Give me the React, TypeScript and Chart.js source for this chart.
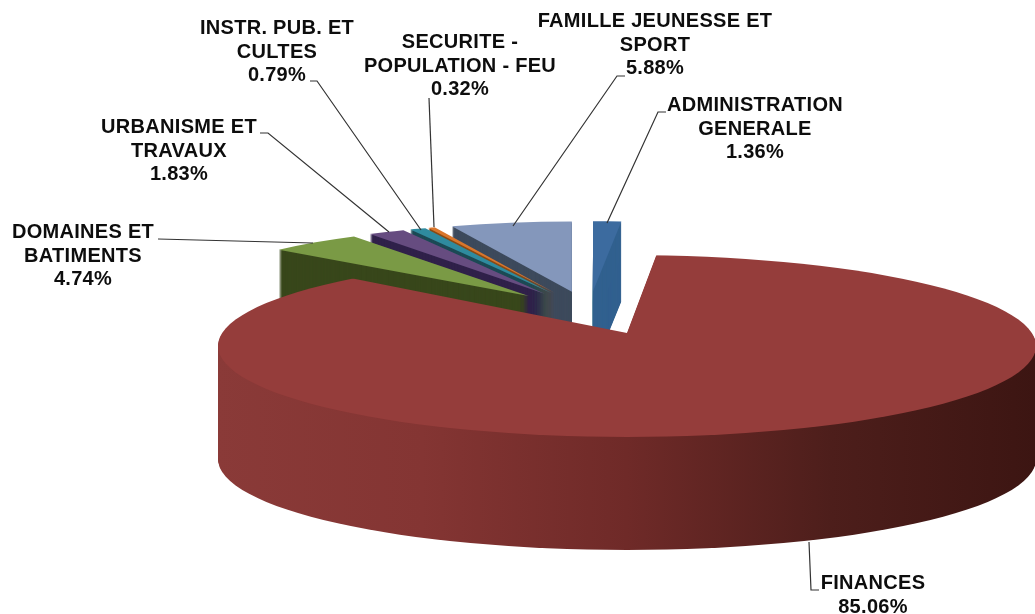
import React, { useEffect, useRef } from "react";
import { Chart, ArcElement, PieController } from "chart.js";

Chart.register(ArcElement, PieController);

// ---- data ----
const categories = [
  "ADMINISTRATION GENERALE",
  "FINANCES",
  "DOMAINES ET BATIMENTS",
  "URBANISME ET TRAVAUX",
  "INSTR. PUB. ET CULTES",
  "SECURITE - POPULATION - FEU",
  "FAMILLE JEUNESSE ET SPORT",
];
const shares = [1.36, 85.06, 4.74, 1.83, 0.79, 0.32, 5.88];
const labelLines = [
  ["ADMINISTRATION", "GENERALE"],
  ["FINANCES"],
  ["DOMAINES ET", "BATIMENTS"],
  ["URBANISME ET", "TRAVAUX"],
  ["INSTR. PUB. ET", "CULTES"],
  ["SECURITE -", "POPULATION - FEU"],
  ["FAMILLE JEUNESSE ET", "SPORT"],
];

// ---- styling ----
const topColors = ["#3c6b9f", "#953d3b", "#7a9a45", "#664c80", "#2f8b9f", "#d9762c", "#8497bb"];
const wallColors = ["#31608f", "#000000", "#38471b", "#30214a", "#1c4a55", "#8a4a14", "#3d4a5c"];
const financeIndex = 1;
const drawOrder = [6, 5, 4, 3, 2, 0, 1];
const FONT = 'bold 20px "Liberation Sans", Arial, sans-serif';

// Projection of the pie plane on the picture
const RADIUS = 410;
const back = { cx: 589, cy: 311, sx: 0.81, sy: 0.171, explode: 115, depth: 80 };
// The big slice: wedge pivots on its tip, rim is the ellipse (perspective look)
const front = { tipX: 627, tipY: 333, rimY: 346, rx: 409, ry: 91, m: 1.6, aspect: 4.4, depth: 113 };

// Label anchors (centre x, first baseline y) and leader lines
const labelPos: [number, number][] = [
  [755, 111],
  [873, 589],
  [83, 238],
  [179, 133],
  [277, 34],
  [460, 48],
  [655, 27],
];
const leaders: [number, number][][] = [
  [[666, 112], [658, 112], [607, 223]],
  [[809, 542], [811, 590], [819, 590]],
  [[158, 239], [313, 243]],
  [[260, 133], [268, 133], [389, 232]],
  [[310, 81], [317, 81], [421, 230]],
  [[429, 98], [434, 227]],
  [[625, 76], [617, 76], [513, 226]],
];

function paintArc(ctx: CanvasRenderingContext2D, arc: any, fill: any) {
  const copy = Object.create(arc);
  copy.options = { ...arc.options, backgroundColor: fill, borderWidth: 0 };
  ArcElement.prototype.draw.call(copy, ctx);
}

function paintBack(ctx: CanvasRenderingContext2D, arc: any, fill: any, dy: number) {
  const mid = (arc.startAngle + arc.endAngle) / 2;
  ctx.save();
  ctx.translate(back.cx, back.cy + dy);
  ctx.scale(back.sx, back.sy);
  ctx.translate(Math.cos(mid) * back.explode - arc.x, Math.sin(mid) * back.explode - arc.y);
  paintArc(ctx, arc, fill);
  ctx.restore();
}

function paintFront(ctx: CanvasRenderingContext2D, arc: any, fill: any, dy: number) {
  ctx.save();
  ctx.beginPath();
  ctx.ellipse(front.tipX, front.rimY + dy, front.rx, front.ry, 0, 0, Math.PI * 2);
  ctx.clip();
  ctx.translate(front.tipX, front.tipY + dy);
  ctx.scale(front.m, front.m / front.aspect);
  ctx.translate(-arc.x, -arc.y);
  paintArc(ctx, arc, fill);
  ctx.restore();
}

const pie3d = {
  id: "pie3d",
  beforeDatasetsDraw(chart: any) {
    const ctx: CanvasRenderingContext2D = chart.ctx;
    const arcs = chart.getDatasetMeta(0).data;
    for (const i of drawOrder) {
      const arc = arcs[i];
      if (i === financeIndex) {
        const span = RADIUS / front.m;
        const g = ctx.createLinearGradient(arc.x - span, 0, arc.x + span, 0);
        g.addColorStop(0, "#8a3a38");
        g.addColorStop(0.25, "#843533");
        g.addColorStop(0.5, "#6f2a28");
        g.addColorStop(0.75, "#4d1e1b");
        g.addColorStop(1, "#3c1512");
        for (let d = front.depth; d > 0; d--) paintFront(ctx, arc, g, d);
        paintFront(ctx, arc, topColors[i], 0);
      } else {
        for (let d = back.depth; d > 0; d--) paintBack(ctx, arc, wallColors[i], d);
        paintBack(ctx, arc, topColors[i], 0);
      }
    }
    return false;
  },
  afterDraw(chart: any) {
    const ctx: CanvasRenderingContext2D = chart.ctx;
    ctx.save();
    ctx.strokeStyle = "#333333";
    ctx.lineWidth = 1.2;
    for (const pts of leaders) {
      ctx.beginPath();
      pts.forEach(([x, y], k) => (k ? ctx.lineTo(x, y) : ctx.moveTo(x, y)));
      ctx.stroke();
    }
    ctx.font = FONT;
    (ctx as any).letterSpacing = "0.3px";
    ctx.fillStyle = "#0d0d0d";
    ctx.textAlign = "center";
    ctx.textBaseline = "alphabetic";
    shares.forEach((v, i) => {
      const lines = [...labelLines[i], `${v.toFixed(2)}%`];
      lines.forEach((t, k) => ctx.fillText(t, labelPos[i][0], labelPos[i][1] + k * 23.7));
    });
    ctx.restore();
  },
};

export default function App() {
  const ref = useRef<HTMLCanvasElement>(null);
  useEffect(() => {
    const chart = new Chart(ref.current!, {
      type: "pie",
      data: {
        labels: categories,
        datasets: [{ data: shares, backgroundColor: topColors, borderWidth: 0, radius: RADIUS }],
      },
      options: {
        animation: false,
        responsive: false,
        layout: { padding: 0 },
        plugins: { legend: { display: false }, tooltip: { enabled: false } } as any,
      },
      plugins: [pie3d],
    } as any);
    return () => chart.destroy();
  }, []);
  return (
    <div style={{ position: "fixed", left: 0, top: 0, width: 1035, height: 614, background: "#fff" }}>
      <canvas ref={ref} width={1035} height={614} style={{ display: "block" }} />
    </div>
  );
}
